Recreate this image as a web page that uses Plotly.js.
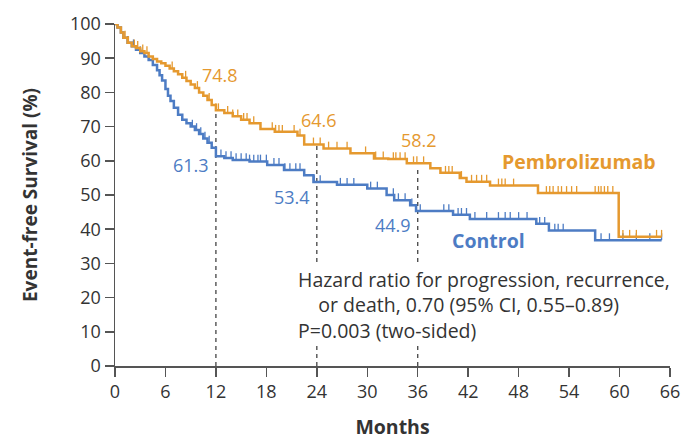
<!DOCTYPE html>
<html>
<head>
<meta charset="utf-8">
<script src="https://cdn.plot.ly/plotly-3.0.1.min.js"></script>
<style>html,body{margin:0;padding:0;background:#fff;}#chart{width:686px;height:440px;}</style>
</head>
<body>
<div id="chart"></div>
<script>
// ---- Data ----
const pembroTime = [0,0.3,0.7,1,1.5,2,2.5,3,3.5,4,4.5,5,5.5,6,6.5,7,7.5,8,8.5,9,9.5,10,10.5,11,11.5,12,13,14,15,16,17.3,19,21.7,22.5,24.8,28,30.8,32.5,34.7,37.5,38.7,41,41.8,44.6,50.3,59.9,65];
const pembroSurv = [100,99,97.5,96,94.5,93.5,93,92,91.5,90.5,89.8,89,88.5,87.8,87,86.2,85.3,84.3,83.3,82.3,81.3,80,79,77.8,76.3,74.8,74,73,72,71,69.3,68.5,67.4,64.8,63.6,62.2,60.7,60.5,59.3,57.8,56.5,55,53.9,52.8,50.6,37.8,37.8];

const controlTime = [0,0.3,0.7,1,1.5,2,2.5,3,3.5,4,4.5,5,5.3,5.6,6,6.3,6.6,7,7.5,8,8.5,9,9.5,10,10.5,11,11.5,12,13,14,16,18.1,20.1,22.5,23.6,26.4,30,32.3,33.2,35.1,35.8,40.2,42.2,50.1,51.6,57.1,65];
const controlSurv = [100,99,97.5,96,94.5,93.5,92.5,91.5,90.5,89.5,88,86.5,85,83.5,81,79,77.5,75.5,73.5,72,71,70,69,67.8,66.5,65.3,63.8,61.3,60.8,60.2,59.8,58.8,57.3,55.8,53.8,53,51.9,50,48.5,47,45.3,44.2,43,41.6,39.6,36.8,36.8];

const pembroCensor = [1.2,1.6,2.3,2.7,3.3,3.8,6.8,8.4,9.8,11.2,12,12.3,13.4,14,14.6,15.3,15.7,16.5,18.7,19.1,19.5,19.9,21.3,22,23.6,24.4,25.4,26.4,27.6,29.8,31,31.9,33.1,33.4,33.9,34.5,35.5,35.9,36.7,39.3,39.7,40.1,41.2,42.4,43,43.6,44.2,45.6,46,46.4,47.4,51.3,51.7,52.1,52.7,53.1,53.7,54.3,54.9,57.1,57.5,57.8,58.2,58.6,59.2,60.4,61.2,62,64.4,65];
const controlCensor = [1.5,2.2,3,9.2,9.7,10.2,10.7,11.2,12.6,13.2,13.8,14.4,15,15.6,16,16.5,17,17.3,18,18.9,19.5,20.2,20.8,21.5,22,23.7,24.4,26.8,27.6,28.4,30.4,31.2,33.1,33.7,34.5,35.3,36.3,39.1,39.7,40.8,41.2,41.8,42.8,44.2,45.6,46.4,47,48,49,50.5,51.1,52.3,52.7,53.3,57.8,58.8,60.4,62,63.6,65];

const landmarkMonths = [12, 24, 36];
const pembroLandmark = [74.8, 64.6, 58.2];
const controlLandmark = [61.3, 53.4, 44.9];

const xTicks = [0,6,12,18,24,30,36,42,48,54,60,66];
const yTicks = [0,10,20,30,40,50,60,70,80,90,100];

const seriesNames = ["Pembrolizumab", "Control"];
const hazardLines = ["Hazard ratio for progression, recurrence,", "\u00a0\u00a0\u00a0\u00a0or death, 0.70 (95% CI, 0.55\u20130.89)", "P=0.003 (two-sided)"];

// ---- Styles ----
const ORANGE = "#E5992F";
const BLUE = "#4D7CC4";
const AXIS = "#555555";
const TEXT = "#333333";
const FONT = "Open Sans, sans-serif";

function stepValue(times, surv, t) {
  let v = surv[0];
  for (let i = 0; i < times.length; i++) { if (times[i] <= t) v = surv[i]; else break; }
  return v;
}

function censorTrace(times, surv, cens, color) {
  return {
    x: cens,
    y: cens.map(t => stepValue(times, surv, t)),
    mode: "markers",
    type: "scatter",
    marker: {size: 1, color: color, opacity: 0},
    error_y: {type: "data", symmetric: false, array: cens.map(() => 2.0), arrayminus: cens.map(() => 0), width: 0, thickness: 1.3, color: color},
    hoverinfo: "skip",
    showlegend: false
  };
}

const traces = [
  {x: controlTime, y: controlSurv, mode: "lines", type: "scatter", line: {shape: "hv", color: BLUE, width: 2.5}, showlegend: false},
  censorTrace(controlTime, controlSurv, controlCensor, BLUE),
  {x: pembroTime, y: pembroSurv, mode: "lines", type: "scatter", line: {shape: "hv", color: ORANGE, width: 2.5}, showlegend: false},
  censorTrace(pembroTime, pembroSurv, pembroCensor, ORANGE)
];

const shapes = landmarkMonths.map((m, i) => ({
  type: "line", xref: "x", yref: "y", x0: m, x1: m, y0: 0, y1: pembroLandmark[i],
  line: {color: "#444", width: 1.3, dash: "4px,4px"}, layer: "below"
}));

const pembroLabelPos = [[12.5, 85], [24.3, 71.9], [36.2, 66]];
const controlLabelPos = [[9, 58.8], [21, 49.5], [33, 41.2]];

const annotations = [];
landmarkMonths.forEach((m, i) => {
  annotations.push({x: pembroLabelPos[i][0], y: pembroLabelPos[i][1], xref: "x", yref: "y", text: pembroLandmark[i].toFixed(1), showarrow: false, font: {family: FONT, size: 18, color: ORANGE}});
  annotations.push({x: controlLabelPos[i][0], y: controlLabelPos[i][1], xref: "x", yref: "y", text: controlLandmark[i].toFixed(1), showarrow: false, font: {family: FONT, size: 18, color: BLUE}});
});
annotations.push({x: 55.2, y: 59.7, xref: "x", yref: "y", text: "<b>" + seriesNames[0] + "</b>", showarrow: false, font: {family: FONT, size: 19.5, color: ORANGE}});
annotations.push({x: 44.4, y: 36.8, xref: "x", yref: "y", text: "<b>" + seriesNames[1] + "</b>", showarrow: false, font: {family: FONT, size: 19.5, color: BLUE}});
annotations.push({
  x: 21.6, y: 17.8, xref: "x", yref: "y", xanchor: "left", yanchor: "middle", align: "left",
  text: hazardLines.join("<br>"), showarrow: false, bgcolor: "#ffffff", borderpad: 0,
  font: {family: FONT, size: 19.5, color: TEXT}
});

const layout = {
  width: 686, height: 440,
  margin: {l: 115, r: 16, t: 24, b: 74},
  paper_bgcolor: "#fff", plot_bgcolor: "#fff",
  font: {family: FONT, color: TEXT, size: 18},
  xaxis: {
    range: [0, 66], tickvals: xTicks, ticktext: xTicks.map(String),
    showgrid: false, zeroline: false, showline: true, linecolor: AXIS, linewidth: 1.5,
    ticks: "outside", ticklen: 9, tickwidth: 1.5, tickcolor: AXIS,
    tickfont: {family: FONT, size: 18, color: TEXT},
    title: {text: "<b>Months</b>", font: {family: FONT, size: 19.5, color: TEXT}, standoff: 27}
  },
  yaxis: {
    range: [0, 100], tickvals: yTicks, ticktext: yTicks.map(String),
    showgrid: false, zeroline: false, showline: true, linecolor: AXIS, linewidth: 1.5,
    ticks: "outside", ticklen: 9, tickwidth: 1.5, tickcolor: AXIS,
    tickfont: {family: FONT, size: 18, color: TEXT},
    title: {text: "<b>Event-free Survival (%)</b>", font: {family: FONT, size: 19, color: TEXT}, standoff: 27}
  },
  shapes: shapes,
  annotations: annotations,
  showlegend: false
};

Plotly.newPlot("chart", traces, layout, {staticPlot: true, displayModeBar: false});
</script>
</body>
</html>
